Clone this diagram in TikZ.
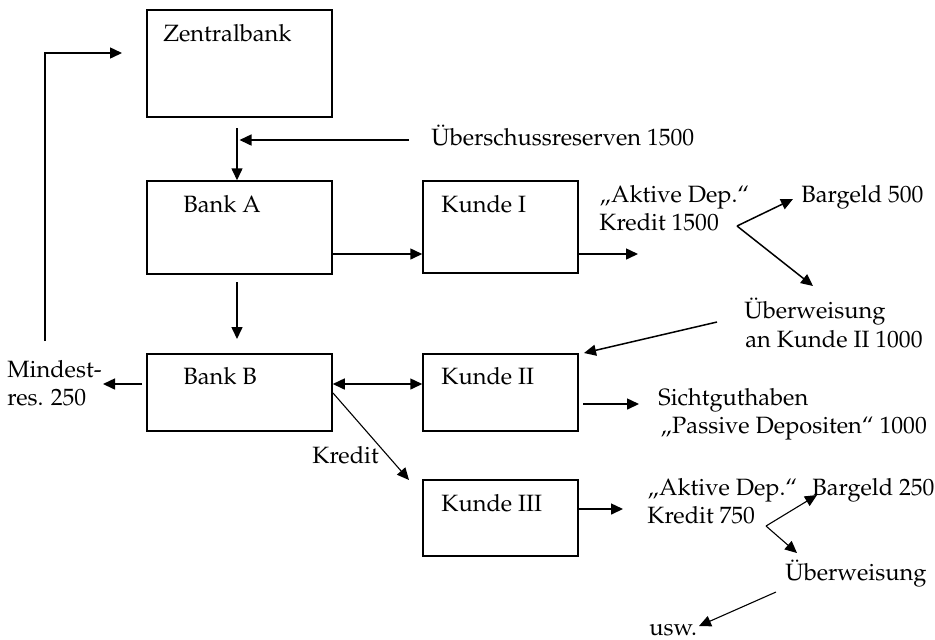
\documentclass[tikz,border=0pt]{standalone}
\usepackage[T1]{fontenc}
\renewcommand{\rmdefault}{ppl}
\usetikzlibrary{arrows.meta}
\begin{document}
\begin{tikzpicture}[x=0.5pt,y=-0.5pt,
  box/.style={draw,line width=0.75pt,inner sep=0pt,minimum width=92.5pt},
  lbl/.style={anchor=base west,inner sep=0pt,font=\fontsize{11.8}{14}\selectfont},
  arr/.style={line width=0.75pt,-{Triangle[length=6pt,width=5.5pt]}},
  darr/.style={line width=0.75pt,{Triangle[length=6pt,width=5.5pt]}-{Triangle[length=6pt,width=5.5pt]}},
  tarr/.style={line width=0.55pt,-{Triangle[length=6pt,width=5.5pt]}}]
\fill[white] (0,0) rectangle (935,639);
\useasboundingbox (0,0) rectangle (935,639);
% boxes
\node[box,minimum height=53.5pt] (zb) at (239.5,63.5) {};
\node[box,minimum height=46.5pt] (ba) at (239.5,227.5) {};
\node[box,minimum height=38.5pt] (bb) at (239.5,392.5) {};
\node[box,minimum width=77.5pt,minimum height=46pt] (k1) at (500.5,227) {};
\node[box,minimum width=77.5pt,minimum height=38.5pt] (k2) at (500.5,392.5) {};
\node[box,minimum width=77.5pt,minimum height=38pt] (k3) at (500.5,518) {};
% box texts
\node[lbl] (tzb) at (163,41) {Zentralbank};
\node[lbl] (tba) at (183,212) {Bank A};
\node[lbl] (tbb) at (183,384) {Bank B};
\node[lbl] (tk1) at (441,212) {Kunde I};
\node[lbl] (tk2) at (441,384) {Kunde II};
\node[lbl] (tk3) at (441,511) {Kunde III};
% other texts
\node[lbl] (ueb) at (431,145) {\"Uberschussreserven 1500};
\node[lbl] (akt1) at (599,202) {\quotedblbase Aktive Dep.\textquotedblleft};
\node[lbl] (kr1) at (599,230) {Kredit 1500};
\node[lbl] (bg1) at (801,202) {Bargeld 500};
\node[lbl] (uw1) at (744,318) {\"Uberweisung};
\node[lbl] (uw1b) at (745,347) {an Kunde II 1000};
\node[lbl] (sg) at (658,405) {Sichtguthaben};
\node[lbl] (pd) at (660,433) {\quotedblbase Passive Depositen\textquotedblleft{} 1000};
\node[lbl] (md1) at (7,377) {Mindest-};
\node[lbl] (md2) at (7,405) {res. 250};
\node[lbl] (kred) at (312,463) {Kredit};
\node[lbl] (akt3) at (647,495) {\quotedblbase Aktive Dep.\textquotedblleft};
\node[lbl] (kr3) at (647,523) {Kredit 750};
\node[lbl] (bg3) at (812,495) {Bargeld 250};
\node[lbl] (uw3) at (785,580) {\"Uberweisung};
\node[lbl] (usw) at (649,635) {usw.};
% coordinates
\coordinate (mbot) at (45,341);
\coordinate (zbin) at (122,53);
\coordinate (zbout) at (237,128);
\coordinate (uebstart) at (409,140);
\coordinate (uebend) at (239.5,140);
\coordinate (y254) at (0,254);
\coordinate (baout) at (237,282);
\coordinate (bbin) at (237,339);
\coordinate (mdstart) at (142,384);
\coordinate (mdend) at (103,384);
\coordinate (y384) at (0,384);
\coordinate (kstart) at (333,393);
\coordinate (kend) at (409,480);
\coordinate (k1end) at (638,254);
\coordinate (s1) at (737,226);
\coordinate (t1a) at (793,199);
\coordinate (t1b) at (813,286);
\coordinate (uwstart) at (717,322);
\coordinate (uwend) at (584,353);
\coordinate (k2start) at (583,404);
\coordinate (k2end) at (639,404);
\coordinate (y509) at (0,509);
\coordinate (k3end) at (623,509);
\coordinate (s3) at (766,526);
\coordinate (t3a) at (817,495);
\coordinate (t3b) at (797,553);
\coordinate (uw3start) at (776,592);
\coordinate (uw3end) at (699,626);
% connectors
\draw[arr] (mbot) |- (zbin);
\draw[arr] (zbout) -- (zbout |- ba.north);
\draw[arr] (uebstart) -- (uebend);
\draw[arr] (ba.east |- y254) -- (k1.west |- y254);
\draw[arr] (baout) -- (bbin);
\draw[arr] (mdstart) -- (mdend);
\draw[darr] (bb.east |- y384) -- (k2.west |- y384);
\draw[tarr] (kstart) -- (kend);
\draw[arr] (k1.east |- y254) -- (k1end);
\draw[arr] (s1) -- (t1a);
\draw[arr] (s1) -- (t1b);
\draw[arr] (uwstart) -- (uwend);
\draw[arr] (k2start) -- (k2end);
\draw[arr] (k3.east |- y509) -- (k3end);
\draw[tarr] (s3) -- (t3a);
\draw[tarr] (s3) -- (t3b);
\draw[tarr] (uw3start) -- (uw3end);
\end{tikzpicture}
\end{document}
